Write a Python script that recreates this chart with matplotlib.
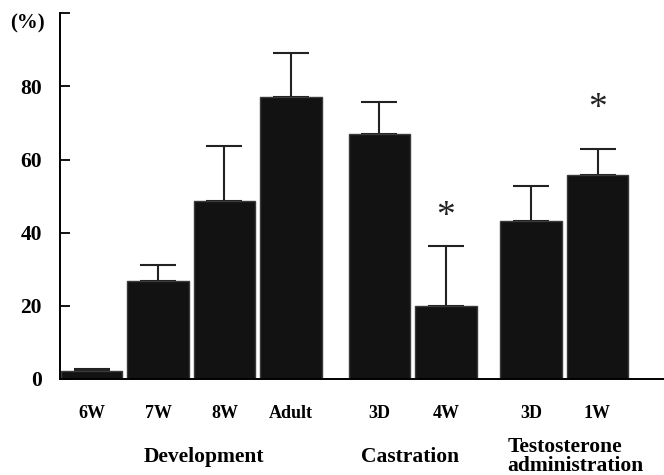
import matplotlib
matplotlib.use("Agg")
import matplotlib.pyplot as plt
import matplotlib.transforms as mtransforms

# ---- data ----
groups = ["Development", "Castration", "Testosterone", "administration"]
categories = [["6W", "7W", "8W", "Adult"], ["3D", "4W"], ["3D", "1W"]]
means = [[2.2, 26.7, 48.8, 77.0], [67.0, 20.0], [43.3, 55.9]]
err_up = [[0.4, 4.6, 15.0, 12.1], [8.7, 16.4], [9.5, 6.9]]
significant = [[False, False, False, False], [False, True], [False, True]]
sig_y = [[None, None, None, None], [None, 44.5], [None, 73.8]]
yticks = [0, 20, 40, 60, 80, 100]
ytick_labels = ["0", "20", "40", "60", "80", ""]

plt.rcParams['font.family'] = ['Liberation Serif', 'DejaVu Serif']

W, H = 664, 475
fig = plt.figure(figsize=(W / 100, H / 100), dpi=100)
ax_left, ax_right, ax_bottom_px, ax_top_px = 60, 664, 379, 13.3
ax = fig.add_axes([ax_left / W, 1 - ax_bottom_px / H,
                   (ax_right - ax_left) / W, (ax_bottom_px - ax_top_px) / H])

group_starts = [0.0, 4.33, 6.61]
bar_w = 0.93
blend = mtransforms.blended_transform_factory(ax.transData, fig.transFigure)

for gi, (cats, ms, es) in enumerate(zip(categories, means, err_up)):
    xs = [group_starts[gi] + i for i in range(len(cats))]
    ax.bar(xs, ms, width=bar_w, color='#121212', edgecolor='#3a3a3a',
           linewidth=1.0, zorder=2)
    ax.errorbar(xs, ms, yerr=[[0] * len(ms), es], fmt='none', ecolor='#222222',
                elinewidth=1.5, capsize=13, capthick=1.5, zorder=1)
    for x, c in zip(xs, cats):
        ax.text(x, 1 - 413 / H, c, transform=blend, ha='center', va='center',
                fontsize=13, fontweight='bold')
    for x, s, sy in zip(xs, significant[gi], sig_y[gi]):
        if s:
            ax.text(x, sy, "*", ha='center', va='center', fontsize=27,
                    color='#222222')

# group labels
ax.text(1.69, 1 - 457 / H, groups[0], transform=blend, ha='center',
        va='center', fontsize=15.5, fontweight='bold')
ax.text(4.79, 1 - 457 / H, groups[1], transform=blend, ha='center',
        va='center', fontsize=15.5, fontweight='bold')
ax.text(7.12, 1 - 447 / H, groups[2], transform=blend, ha='center',
        va='center', fontsize=15.5, fontweight='bold')
ax.text(7.27, 1 - 466 / H, groups[3], transform=blend, ha='center',
        va='center', fontsize=15.5, fontweight='bold')

ax.set_xlim(-0.474, 8.61)
ax.set_ylim(0, 100)
ax.set_yticks(yticks)
ax.set_yticklabels(ytick_labels, fontsize=15.5, fontweight='bold')
ax.tick_params(axis='y', direction='in', length=7, width=1.3, pad=13)
ax.set_xticks([])
for side in ['top', 'right']:
    ax.spines[side].set_visible(False)
ax.spines['left'].set_linewidth(1.4)
ax.spines['bottom'].set_linewidth(1.4)

fig.text(27 / W, 1 - 23 / H, "(%)", ha='center', va='center',
         fontsize=15, fontweight='bold')

fig.savefig("out.png", dpi=100)
